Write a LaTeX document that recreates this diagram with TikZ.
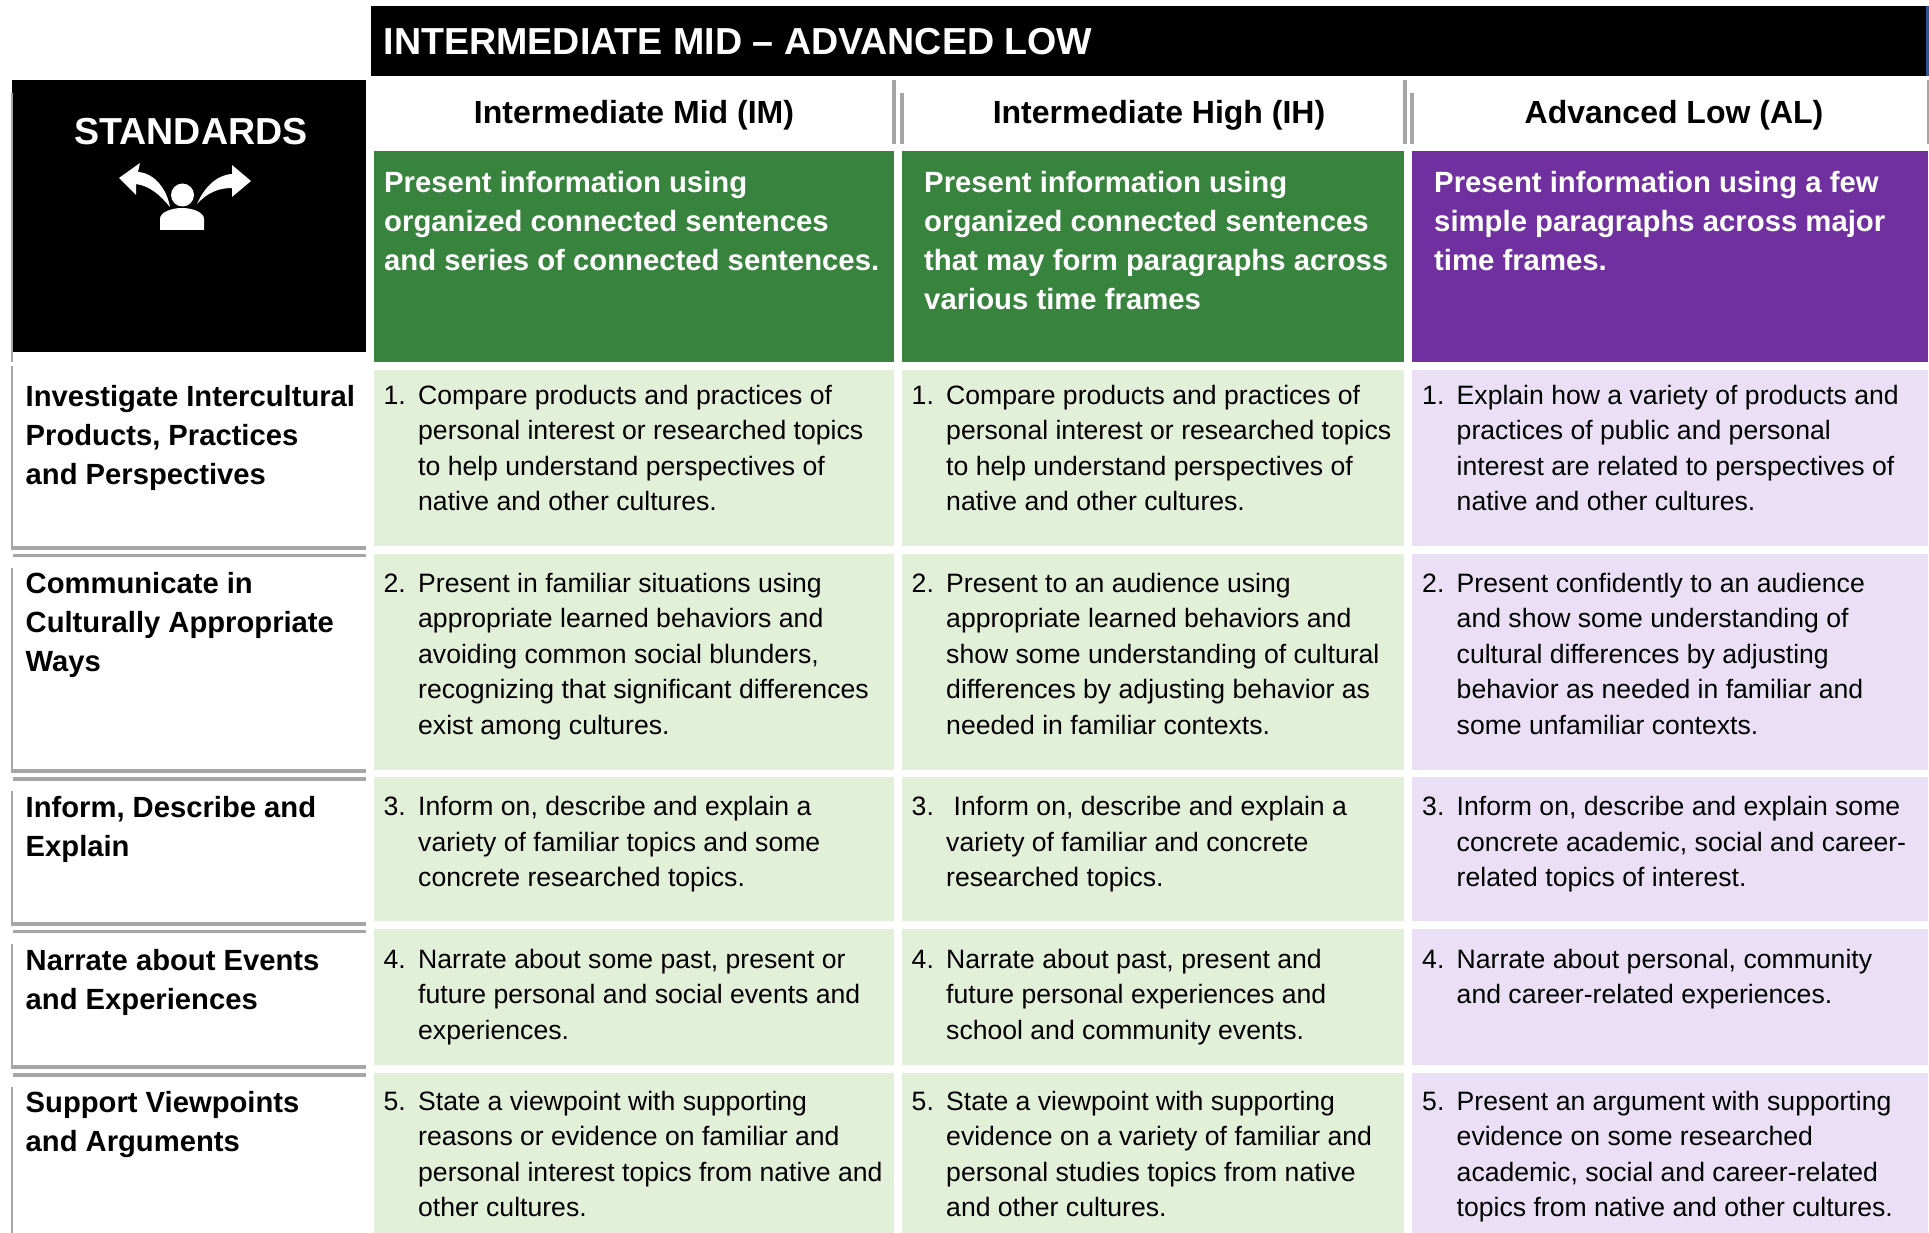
\documentclass[tikz,border=0pt]{standalone}
\usepackage{fontspec}
\setmainfont{Liberation Sans}
\definecolor{grn}{HTML}{38833E}
\definecolor{pur}{HTML}{7030A0}
\definecolor{lgrn}{HTML}{E2EFD9}
\definecolor{lpur}{HTML}{EBDFF5}
\definecolor{bar}{HTML}{A6A6A6}
\definecolor{sliver}{HTML}{2F5597}
\newcommand{\LS}{\rule{0pt}{20pt}}
\tikzset{
  x=1pt,y=-1pt,
  txt/.style={inner sep=0pt,anchor=north west,align=left},
  body/.style={txt,font=\fontsize{26.6}{35.5}\selectfont},
  label/.style={txt,font=\fontsize{29.2}{39}\selectfont\bfseries},
  lead/.style={txt,text=white,font=\fontsize{29.3}{39}\selectfont\bfseries},
  colhead/.style={inner sep=0pt,anchor=base,font=\fontsize{32}{36}\selectfont\bfseries},
  graybar/.style={fill=bar,draw=none},
}
\begin{document}
\begin{tikzpicture}
\useasboundingbox (0,0) rectangle (1929,1233);
\fill[white] (0,0) rectangle (1929,1233);
% black bands
\fill[black] (371,6) rectangle (1926,76);
\fill[sliver] (1926,6) rectangle (1929,76);
\fill[black] (12,80) rectangle (366,352);
% column bars
\fill[graybar] (892,80) rectangle (896,144);
\fill[graybar] (900,93) rectangle (904,144);
\fill[graybar] (1403,80) rectangle (1407,144);
\fill[graybar] (1410,93) rectangle (1414,144);
\fill[graybar] (1927,80) rectangle (1929,144);
% left rule
\fill[graybar] (11,93) rectangle (13,362);
\fill[graybar] (11,366) rectangle (13,550);
\fill[graybar] (11,568) rectangle (13,773);
\fill[graybar] (11,791) rectangle (13,926);
\fill[graybar] (11,944) rectangle (13,1069);
\fill[graybar] (11,1087) rectangle (13,1233);
% row bars
\foreach \a/\b in {546/550,554/557,769/773,777/781,922/926,930/933,1065/1069,1073/1077}
  \fill[graybar] (13,\a) rectangle (366,\b);
% headers
\fill[grn] (374,151) rectangle (894,362);
\fill[grn] (902,151) rectangle (1404,362);
\fill[pur] (1412,151) rectangle (1928,362);
% cells
\foreach \a/\b in {370/546,554/770,777/921,929/1065,1073/1233}{
  \fill[lgrn] (374,\a) rectangle (894,\b);
  \fill[lgrn] (902,\a) rectangle (1404,\b);
  \fill[lpur] (1412,\a) rectangle (1928,\b);
}
% icon
\fill[white] (182.5,195) circle (11.5);
\fill[white] (160,230) -- (160,219) .. controls (160,212) and (172,208) .. (182,208) .. controls (192,208) and (204,212) .. (204,219) -- (204,230) -- cycle;
\fill[white] (119,178) -- (140,163) -- (138,172) .. controls (155,173) and (167,190) .. (170,207) .. controls (160,195) and (150,186) .. (136,184) -- (136,195) -- cycle;
\fill[white] (251,181) -- (232,165) -- (232,174) .. controls (215,175) and (203,190) .. (197,204) .. controls (207,193) and (218,188) .. (232,188) -- (232,197) -- cycle;
% titles
\node[inner sep=0pt,anchor=base west,text=white,font=\fontsize{37.6}{44}\selectfont\bfseries] (title) at (383.5,55) {INTERMEDIATE MID – ADVANCED LOW};
\node[inner sep=0pt,anchor=base,text=white,font=\fontsize{37.6}{44}\selectfont\bfseries] (standards) at (191,144.5) {STANDARDS};
\node[colhead] (hIM) at (634,123.5) {Intermediate Mid (IM)};
\node[colhead] (hIH) at (1159,123.5) {Intermediate High (IH)};
\node[colhead] (hAL) at (1674,123.5) {Advanced Low (AL)};
% leads
\node[lead] (lIM) at (384,171) {\LS Present information using\\organized connected sentences\\and series of connected sentences.};
\node[lead] (lIH) at (924,171) {\LS Present information using\\organized connected sentences\\that may form paragraphs across\\various time frames};
\node[lead] (lAL) at (1434,171) {\LS Present information using a few\\simple paragraphs across major\\time frames.};
% row labels
\node[label] (r1) at (25.5,385) {\LS Investigate Intercultural\\Products, Practices\\and Perspectives};
\node[label] (r2) at (25.5,572.5) {\LS Communicate in\\Culturally Appropriate\\Ways};
\node[label] (r3) at (25.5,796) {\LS Inform, Describe and\\Explain};
\node[label] (r4) at (25.5,949) {\LS Narrate about Events\\and Experiences};
\node[label] (r5) at (25.5,1091) {\LS Support Viewpoints\\and Arguments};
% numbers
\foreach \n/\y in {1/384,2/572,3/795.5,4/948,5/1090}{
  \node[body] (nA\n) at (383.5,\y) {\LS\n.};
  \node[body] (nB\n) at (911.5,\y) {\LS\n.};
  \node[body] (nC\n) at (1422,\y) {\LS\n.};
}
% column 1
\node[body] (a1) at (418,384) {\LS Compare products and practices of\\personal interest or researched topics\\to help understand perspectives of\\native and other cultures.};
\node[body] (a2) at (418,572) {\LS Present in familiar situations using\\appropriate learned behaviors and\\avoiding common social blunders,\\recognizing that significant differences\\exist among cultures.};
\node[body] (a3) at (418,795.5) {\LS Inform on, describe and explain a\\variety of familiar topics and some\\concrete researched topics.};
\node[body] (a4) at (418,948) {\LS Narrate about some past, present or\\future personal and social events and\\experiences.};
\node[body] (a5) at (418,1090) {\LS State a viewpoint with supporting\\reasons or evidence on familiar and\\personal interest topics from native and\\other cultures.};
% column 2
\node[body] (b1) at (946,384) {\LS Compare products and practices of\\personal interest or researched topics\\to help understand perspectives of\\native and other cultures.};
\node[body] (b2) at (946,572) {\LS Present to an audience using\\appropriate learned behaviors and\\show some understanding of cultural\\differences by adjusting behavior as\\needed in familiar contexts.};
\node[body] (b3) at (946,795.5) {\LS\hspace{7.5pt}Inform on, describe and explain a\\variety of familiar and concrete\\researched topics.};
\node[body] (b4) at (946,948) {\LS Narrate about past, present and\\future personal experiences and\\school and community events.};
\node[body] (b5) at (946,1090) {\LS State a viewpoint with supporting\\evidence on a variety of familiar and\\personal studies topics from native\\and other cultures.};
% column 3
\node[body] (c1) at (1456.5,384) {\LS Explain how a variety of products and\\practices of public and personal\\interest are related to perspectives of\\native and other cultures.};
\node[body] (c2) at (1456.5,572) {\LS Present confidently to an audience\\and show some understanding of\\cultural differences by adjusting\\behavior as needed in familiar and\\some unfamiliar contexts.};
\node[body] (c3) at (1456.5,795.5) {\LS Inform on, describe and explain some\\concrete academic, social and career-\\related topics of interest.};
\node[body] (c4) at (1456.5,948) {\LS Narrate about personal, community\\and career-related experiences.};
\node[body] (c5) at (1456.5,1090) {\LS Present an argument with supporting\\evidence on some researched\\academic, social and career-related\\topics from native and other cultures.};
\end{tikzpicture}
\end{document}
